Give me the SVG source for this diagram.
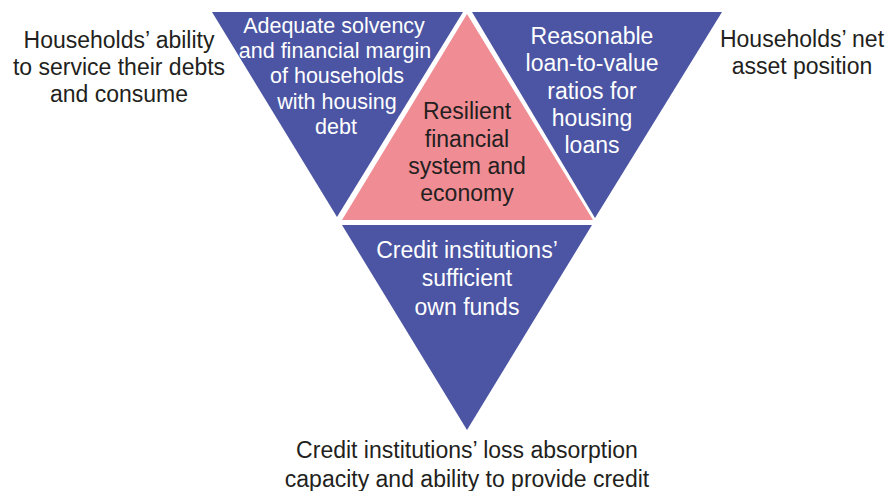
<svg xmlns="http://www.w3.org/2000/svg" width="891" height="491" viewBox="0 0 891 491">
<style>
.blue{fill:#4B55A3}
.pink{fill:#F08C94}
text{font-family:"Liberation Sans",Arial,sans-serif;text-anchor:middle}
.w{fill:#FFFFFF}
.d{fill:#231F20}
.s21{font-size:21.5px}
.s23{font-size:23px}
</style>
<rect width="891" height="491" fill="#FFFFFF"/>
<g id="node-solvency">
<polygon class="blue" points="212,12 463,12 337,217"/>
<text class="w s21" x="334" y="33">Adequate solvency</text>
<text class="w s21" x="335" y="57.5">and financial margin</text>
<text class="w s21" x="337" y="83">of households</text>
<text class="w s21" x="337" y="108.5">with housing</text>
<text class="w s21" x="336" y="134">debt</text>
</g>
<g id="node-ltv">
<polygon class="blue" points="472,12 722,12 595,218"/>
<text class="w s23" x="592" y="44">Reasonable</text>
<text class="w s23" x="592" y="71.3">loan-to-value</text>
<text class="w s23" x="592" y="98.5">ratios for</text>
<text class="w s23" x="592" y="125.8">housing</text>
<text class="w s23" x="592" y="153">loans</text>
</g>
<g id="node-resilient">
<polygon class="pink" points="467,14 342,220 593,220"/>
<text class="d s23" x="467" y="119">Resilient</text>
<text class="d s23" x="467" y="146.5">financial</text>
<text class="d s23" x="467" y="174">system and</text>
<text class="d s23" x="467" y="201">economy</text>
</g>
<g id="node-ownfunds">
<polygon class="blue" points="342,225 592,225 467,430"/>
<text class="w s23" x="467" y="258">Credit institutions’</text>
<text class="w s23" x="467" y="286">sufficient</text>
<text class="w s23" x="467" y="315">own funds</text>
</g>
<g id="label-households-debt">
<text class="d s23" x="119" y="48">Households’ ability</text>
<text class="d s23" x="119" y="75">to service their debts</text>
<text class="d s23" x="119" y="102">and consume</text>
</g>
<g id="label-households-net">
<text class="d s23" x="802" y="47">Households’ net</text>
<text class="d s23" x="802" y="74">asset position</text>
</g>
<g id="label-credit">
<text class="d s23" x="467" y="458">Credit institutions’ loss absorption</text>
<text class="d s23" x="467" y="487">capacity and ability to provide credit</text>
</g>
<g id="connectors"></g>
</svg>
